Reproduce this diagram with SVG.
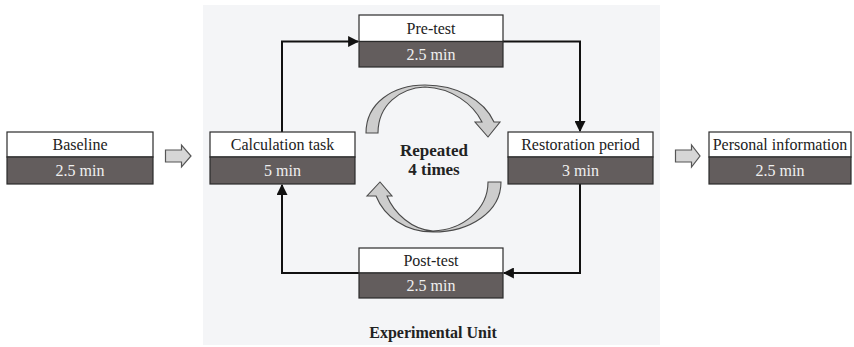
<svg xmlns="http://www.w3.org/2000/svg" width="854" height="347" viewBox="0 0 854 347">
<defs>
<style>
.hd{fill:#ffffff;stroke:#2b2b2b;stroke-width:1.2}
.bd{fill:#635d5d;stroke:#2b2b2b;stroke-width:1.2}
.ht{font-family:"Liberation Serif","Times New Roman",serif;font-size:16px;fill:#222;text-anchor:middle}
.bt{font-family:"Liberation Serif","Times New Roman",serif;font-size:16px;fill:#f0f0f0;text-anchor:middle}
.bold{font-family:"Liberation Serif","Times New Roman",serif;font-weight:bold;fill:#222;text-anchor:middle}
.con{fill:none;stroke:#111;stroke-width:2}
.blk{fill:#d6d6d6;stroke:#555;stroke-width:1.2}
.crv{fill:#cdcdcd;stroke:#4a4a4a;stroke-width:1.1}
</style>
<marker id="ah" viewBox="0 0 10 10" refX="9" refY="5" markerWidth="5.5" markerHeight="5.5" orient="auto" markerUnits="strokeWidth">
<path d="M0,0 L10,5 L0,10 Z" fill="#111"/>
</marker>
</defs>
<rect x="0" y="0" width="854" height="347" fill="#ffffff"/>
<rect id="panel" x="203" y="5" width="457" height="340" fill="#f4f5f7"/>

<g id="connectors">
<path class="con" d="M282,132 V41.5 H358" marker-end="url(#ah)"/>
<path class="con" d="M503,41.5 H580 V131" marker-end="url(#ah)"/>
<path class="con" d="M580,184 V273 H504" marker-end="url(#ah)"/>
<path class="con" d="M359,273 H282 V185" marker-end="url(#ah)"/>
<path class="blk" d="M165.5,150 H181.5 V145 L191,156 L181.5,167 V162 H165.5 Z"/>
<path class="blk" d="M675.5,150 H691.5 V145 L700,156 L691.5,167 V162 H675.5 Z"/>
<path class="crv" d="M366,133 C366,103 393,85 425,85 C457,85 484,100 494,122 L500,122 L488,137 L475,122 L482,122 C473,104 452,88 425,87 C400,88 378,105 378,133 Z"/>
<path class="crv" d="M501,182 C501,212 470,232 433,232 C405,232 384,216 376,196 L367,196 L380,182 L392,196 L387,196 C394,213 412,230 433,231 C462,230 488,210 488,182 Z"/>
</g>

<g id="baseline">
<rect class="hd" x="7" y="132" width="146" height="25"/>
<rect class="bd" x="7" y="157" width="146" height="27"/>
<text class="ht" x="80" y="150">Baseline</text>
<text class="bt" x="80" y="176">2.5 min</text>
</g>

<g id="calc">
<rect class="hd" x="210" y="132" width="145" height="25"/>
<rect class="bd" x="210" y="157" width="145" height="27"/>
<text class="ht" x="282.5" y="150">Calculation task</text>
<text class="bt" x="282.5" y="176">5 min</text>
</g>

<g id="pretest">
<rect class="hd" x="359" y="15" width="144" height="26.5"/>
<rect class="bd" x="359" y="41.5" width="144" height="25.5"/>
<text class="ht" x="431" y="34">Pre-test</text>
<text class="bt" x="431" y="60">2.5 min</text>
</g>

<g id="restoration">
<rect class="hd" x="508" y="132" width="145" height="25"/>
<rect class="bd" x="508" y="157" width="145" height="27"/>
<text class="ht" x="580.5" y="150">Restoration period</text>
<text class="bt" x="580.5" y="176">3 min</text>
</g>

<g id="personal">
<rect class="hd" x="709" y="132" width="142" height="25"/>
<rect class="bd" x="709" y="157" width="142" height="27"/>
<text class="ht" x="780" y="150">Personal information</text>
<text class="bt" x="780" y="176">2.5 min</text>
</g>

<g id="posttest">
<rect class="hd" x="359" y="248" width="144" height="25"/>
<rect class="bd" x="359" y="273" width="144" height="25"/>
<text class="ht" x="431" y="266">Post-test</text>
<text class="bt" x="431" y="291">2.5 min</text>
</g>

<g id="repeated">
<text class="bold" x="434" y="156" font-size="17">Repeated</text>
<text class="bold" x="434" y="175" font-size="17">4 times</text>
</g>

<g id="unit-label">
<text class="bold" x="433" y="338" font-size="16">Experimental Unit</text>
</g>
</svg>
